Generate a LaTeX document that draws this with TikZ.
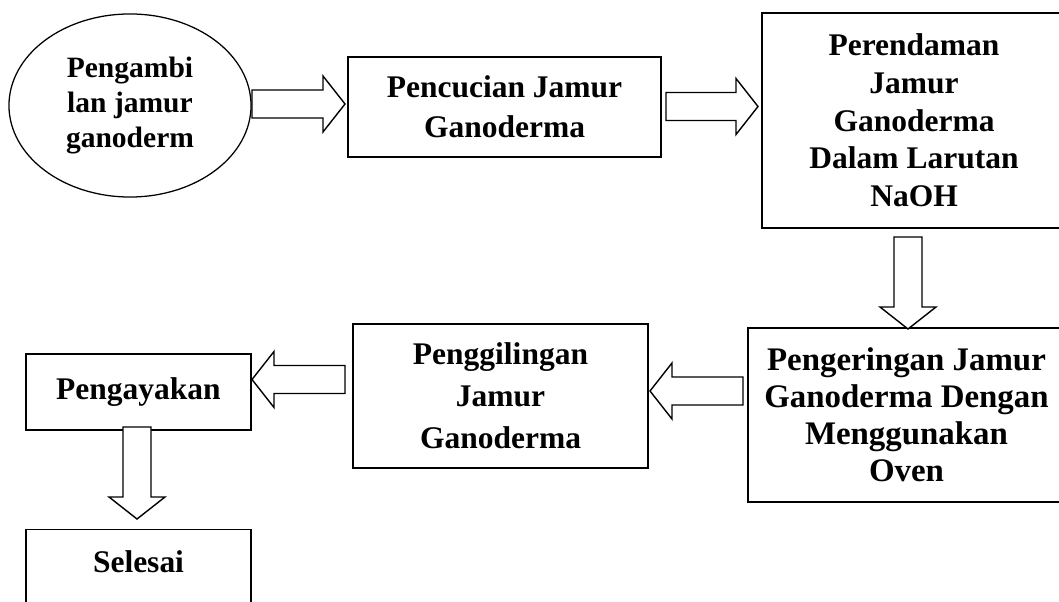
\documentclass[tikz,border=0pt]{standalone}
\usepackage{fontspec}
\setmainfont{Liberation Serif}
\usetikzlibrary{shapes.geometric,calc}

% hollow block arrows: start, tip, signed head length
\newcommand{\blockh}[3]{%
  \draw[hollow] ($(#1)+(0,14)$) -- ($(#2)+(#3,14)$) -- ($(#2)+(#3,28)$) -- (#2)
    -- ($(#2)+(#3,-28)$) -- ($(#2)+(#3,-14)$) -- ($(#1)+(0,-14)$) -- cycle;}
\newcommand{\blockv}[3]{%
  \draw[hollow] ($(#1)+(14,0)$) -- ($(#2)+(14,#3)$) -- ($(#2)+(28,#3)$) -- (#2)
    -- ($(#2)+(-28,#3)$) -- ($(#2)+(-14,#3)$) -- ($(#1)+(-14,0)$) -- cycle;}

\begin{document}
\begin{tikzpicture}[x=0.025cm, y=-0.025cm,
    stepbox/.style={draw, line width=1pt, align=center, inner sep=0pt},
    hollow/.style={draw, fill=white, line width=1pt, line join=miter}]

    \clip (0,0) rectangle (1059,602);

    % ================= TOP ROW =================
    \node[stepbox, ellipse, line width=0.9pt, minimum width=6.05cm, minimum height=4.575cm,
          font=\fontsize{21}{25}\selectfont\bfseries] (start) at (130,105.5)
          {Pengambi\\lan jamur\\ganoderm};
    \node[stepbox, minimum width=7.825cm, minimum height=2.5cm,
          font=\fontsize{22.4}{28.5}\selectfont\bfseries] (wash) at (504.5,107)
          {Pencucian Jamur\\Ganoderma};
    \node[stepbox, minimum width=7.6cm, minimum height=5.375cm,
          font=\fontsize{22.4}{26.8}\selectfont\bfseries] (soak) at (914,120.5)
          {Perendaman\\Jamur\\Ganoderma\\Dalam Larutan\\NaOH};

    % ================= BOTTOM ROW =================
    \node[stepbox, minimum width=7.925cm, minimum height=4.35cm,
          font=\fontsize{23.4}{26.3}\selectfont\bfseries] (dry) at (906.5,415)
          {Pengeringan Jamur\\Ganoderma Dengan\\Menggunakan\\Oven};
    \node[stepbox, minimum width=7.375cm, minimum height=3.6cm,
          font=\fontsize{22.4}{30}\selectfont\bfseries] (grind) at (500.5,396)
          {Penggilingan\\Jamur\\Ganoderma};
    \node[stepbox, minimum width=5.625cm, minimum height=1.9cm,
          font=\fontsize{22.4}{27}\selectfont\bfseries] (sieve) at (138.5,392)
          {Pengayakan};
    \node[stepbox, anchor=north, minimum width=5.625cm, text height=1.075cm, text depth=2cm,
          font=\fontsize{22.4}{27}\selectfont\bfseries] (done) at (138.5,529)
          {Selesai};

    % arrow ends
    \coordinate (a1s) at (252,104);   \coordinate (a1e) at (345,104);
    \coordinate (a2s) at (666,106.5); \coordinate (a2e) at (758,106.5);
    \coordinate (a3s) at (908,237);   \coordinate (a3e) at (908,329);
    \coordinate (a4s) at (743,391);   \coordinate (a4e) at (650,391);
    \coordinate (a5s) at (345,379.5); \coordinate (a5e) at (252,379.5);
    \coordinate (a6s) at (137,427);   \coordinate (a6e) at (137,519);

    % block arrows
    \blockh{a1s}{a1e}{-22}
    \blockh{a2s}{a2e}{-22}
    \blockv{a3s}{a3e}{-22}
    \blockh{a4s}{a4e}{22}
    \blockh{a5s}{a5e}{22}
    \blockv{a6s}{a6e}{-22}

\end{tikzpicture}
\end{document}
